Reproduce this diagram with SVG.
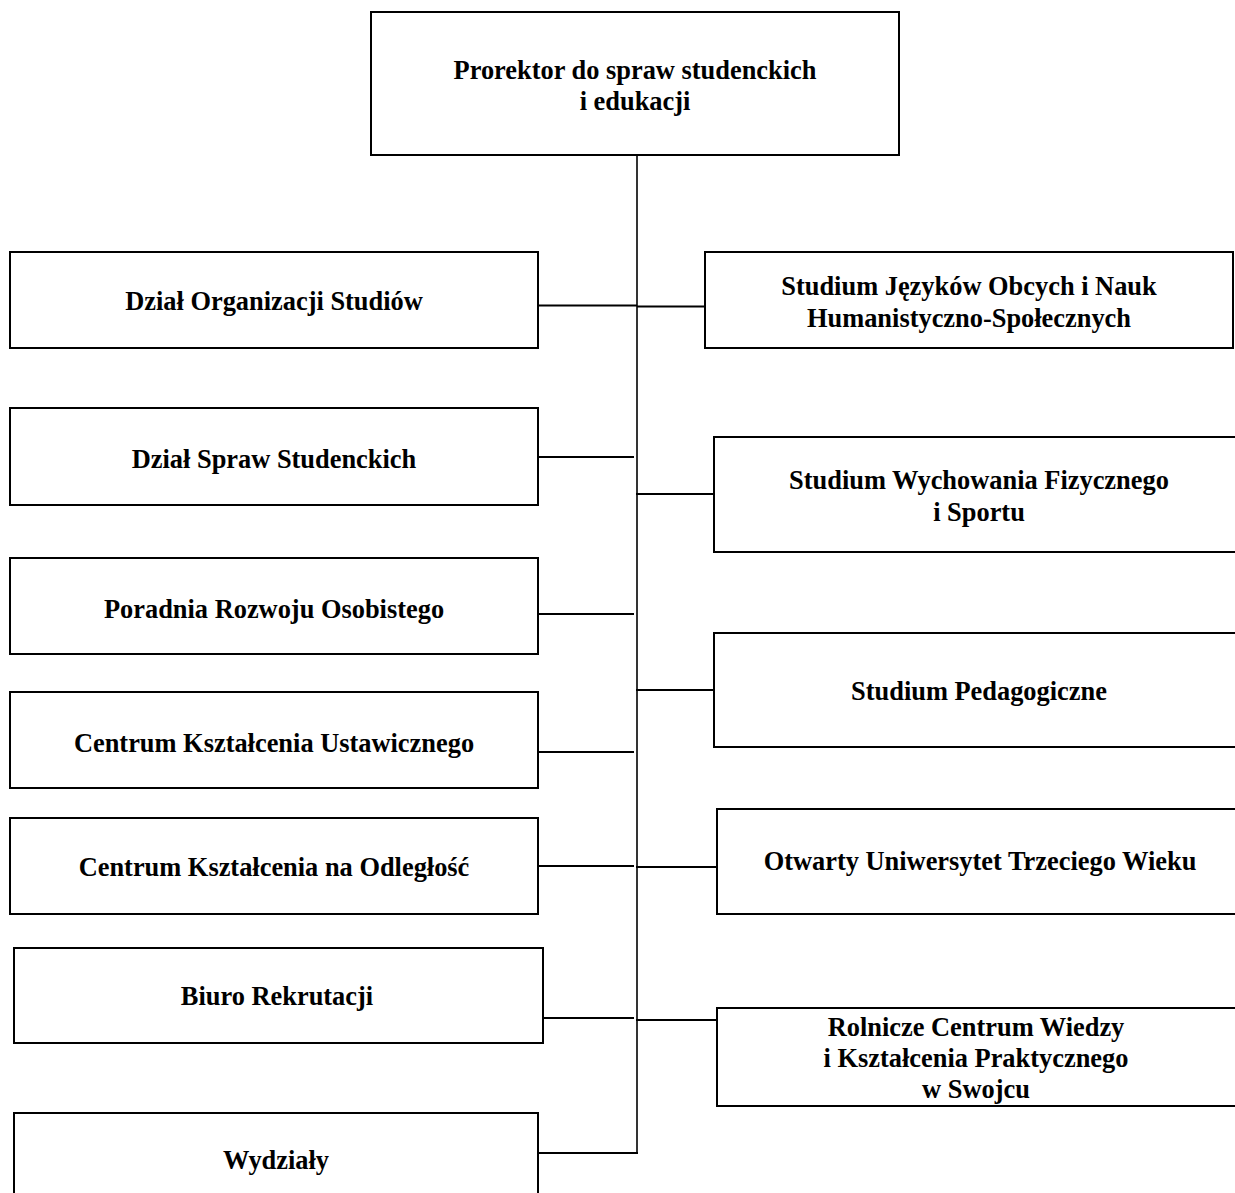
<svg xmlns="http://www.w3.org/2000/svg" width="1235" height="1193" viewBox="0 0 1235 1193">
  <style>
    .box { fill: #fff; stroke: #000; stroke-width: 2; }
    .lbl { font-family: "Liberation Serif", "Times New Roman", serif; font-weight: bold; font-size: 26.4px; fill: #000; text-anchor: middle; }
    .conn { stroke: #000; stroke-width: 2; fill: none; }
    .trunk { stroke: #000; stroke-width: 1.6; fill: none; }
  </style>
  <rect width="1235" height="1193" fill="#fff"/>

  <!-- connectors -->
  <g id="connectors">
    <line class="trunk" x1="637" y1="155" x2="637" y2="1153"/>
    <!-- left branches -->
    <line class="conn" x1="538" y1="305.5" x2="637" y2="305.5"/>
    <line class="conn" x1="538" y1="457" x2="634" y2="457"/>
    <line class="conn" x1="538" y1="614" x2="634" y2="614"/>
    <line class="conn" x1="538" y1="752" x2="634" y2="752"/>
    <line class="conn" x1="538" y1="866" x2="634" y2="866"/>
    <line class="conn" x1="543" y1="1018" x2="634" y2="1018"/>
    <line class="conn" x1="538" y1="1153" x2="638" y2="1153"/>
    <!-- right branches -->
    <line class="conn" x1="637" y1="306.5" x2="705" y2="306.5"/>
    <line class="conn" x1="636" y1="494" x2="714" y2="494"/>
    <line class="conn" x1="636" y1="690" x2="714" y2="690"/>
    <line class="conn" x1="636" y1="867" x2="717" y2="867"/>
    <line class="conn" x1="636" y1="1020" x2="717" y2="1020"/>
  </g>

  <!-- head -->
  <g id="prorektor">
    <rect class="box" x="371" y="12" width="528" height="143"/>
    <text class="lbl" x="635" y="79">Prorektor do spraw studenckich</text>
    <text class="lbl" x="635" y="110">i edukacji</text>
  </g>

  <!-- left column -->
  <g id="dzial-organizacji">
    <rect class="box" x="10" y="252" width="528" height="96"/>
    <text class="lbl" x="274" y="309.5">Dział Organizacji Studiów</text>
  </g>
  <g id="dzial-spraw">
    <rect class="box" x="10" y="408" width="528" height="97"/>
    <text class="lbl" x="274" y="468">Dział Spraw Studenckich</text>
  </g>
  <g id="poradnia">
    <rect class="box" x="10" y="558" width="528" height="96"/>
    <text class="lbl" x="274" y="618">Poradnia Rozwoju Osobistego</text>
  </g>
  <g id="cku">
    <rect class="box" x="10" y="692" width="528" height="96"/>
    <text class="lbl" x="274" y="752">Centrum Kształcenia Ustawicznego</text>
  </g>
  <g id="cko">
    <rect class="box" x="10" y="818" width="528" height="96"/>
    <text class="lbl" x="274" y="876">Centrum Kształcenia na Odległość</text>
  </g>
  <g id="biuro-rekrutacji">
    <rect class="box" x="14" y="948" width="529" height="95"/>
    <text class="lbl" x="277" y="1005">Biuro Rekrutacji</text>
  </g>
  <g id="wydzialy">
    <rect class="box" x="14" y="1113" width="524" height="100"/>
    <text class="lbl" x="276" y="1169">Wydziały</text>
  </g>

  <!-- right column -->
  <g id="sjo">
    <rect class="box" x="705" y="252" width="528" height="96"/>
    <text class="lbl" x="969" y="295">Studium Języków Obcych i Nauk</text>
    <text class="lbl" x="969" y="327">Humanistyczno-Społecznych</text>
  </g>
  <g id="swfis">
    <rect class="box" x="714" y="437" width="540" height="115"/>
    <text class="lbl" x="979" y="489">Studium Wychowania Fizycznego</text>
    <text class="lbl" x="979" y="521">i Sportu</text>
  </g>
  <g id="studium-pedagogiczne">
    <rect class="box" x="714" y="633" width="540" height="114"/>
    <text class="lbl" x="979" y="700">Studium Pedagogiczne</text>
  </g>
  <g id="utw">
    <rect class="box" x="717" y="809" width="540" height="105"/>
    <text class="lbl" x="980" y="870">Otwarty Uniwersytet Trzeciego Wieku</text>
  </g>
  <g id="rcwikp">
    <rect class="box" x="717" y="1008" width="540" height="98"/>
    <text class="lbl" x="976" y="1036">Rolnicze Centrum Wiedzy</text>
    <text class="lbl" x="976" y="1067">i Kształcenia Praktycznego</text>
    <text class="lbl" x="976" y="1098">w Swojcu</text>
  </g>
</svg>
